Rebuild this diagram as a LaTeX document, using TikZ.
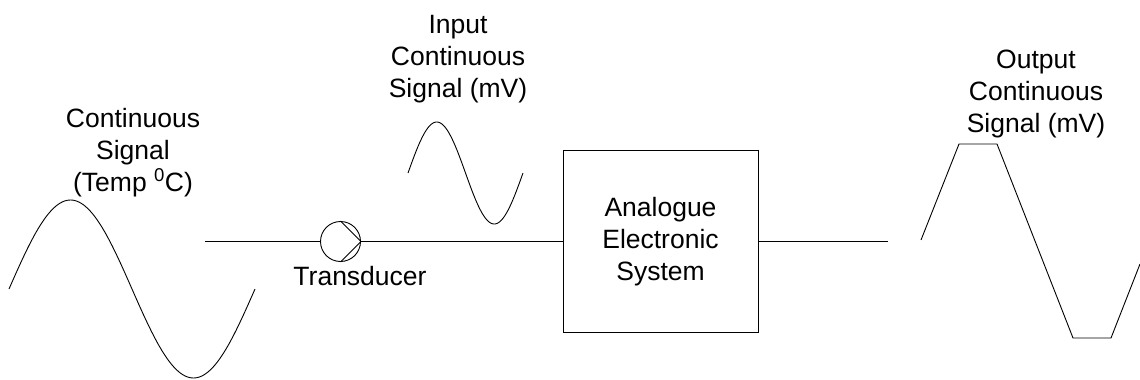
\documentclass[tikz,border=0pt]{standalone}
\usepackage{fontspec}
\setmainfont{Liberation Sans}
\begin{document}
\begin{tikzpicture}[x=1pt,y=-1pt,
  wire/.style={line width=0.9pt},
  lbl/.style={align=center,font=\fontsize{26.5}{32}\selectfont,inner sep=0pt},
  sysbox/.style={draw,line width=0.9pt,minimum width=195pt,minimum height=182pt,align=center,font=\fontsize{26.5}{32}\selectfont},
  transd/.style={draw,circle,line width=0.9pt,minimum size=40pt,inner sep=0pt}]
\useasboundingbox (0,0) rectangle (1140,380);
% signals
\draw[wire] plot[domain=0:360,samples=120] ({9+\x/360*246},{289-89*sin(\x)});
\draw[wire] plot[domain=0:360,samples=100] ({408+\x/360*115},{173-51*sin(\x)});
\draw[wire] (921,240) -- (959,144) -- (997,144) -- (1073,338) -- (1111,338) -- (1140,264);
% blocks
\coordinate (a) at (205,241.5);
\coordinate (b) at (888,241.5);
\node[transd] (tr) at (340.5,241.5) {};
\node[sysbox] (sys) at (660.5,241.5) {Analogue\\Electronic\\System};
\draw[wire] (a) -- (tr.west);
\draw[wire] (tr.east) -- (sys.west);
\draw[wire] (sys.east) -- (b);
\draw[wire] (tr.north) -- (tr.east) -- (tr.south);
% labels
\node[lbl,anchor=base] (tl) at (360,285) {Transducer};
\node[lbl,anchor=base] (l1) at (133,191) {Continuous\\Signal\\(Temp \textsuperscript{0}C)};
\node[lbl,anchor=base] (l2) at (458,97) {Input\\Continuous\\Signal (mV)};
\node[lbl,anchor=base] (l3) at (1036,132) {Output\\Continuous\\Signal (mV)};
\end{tikzpicture}
\end{document}
